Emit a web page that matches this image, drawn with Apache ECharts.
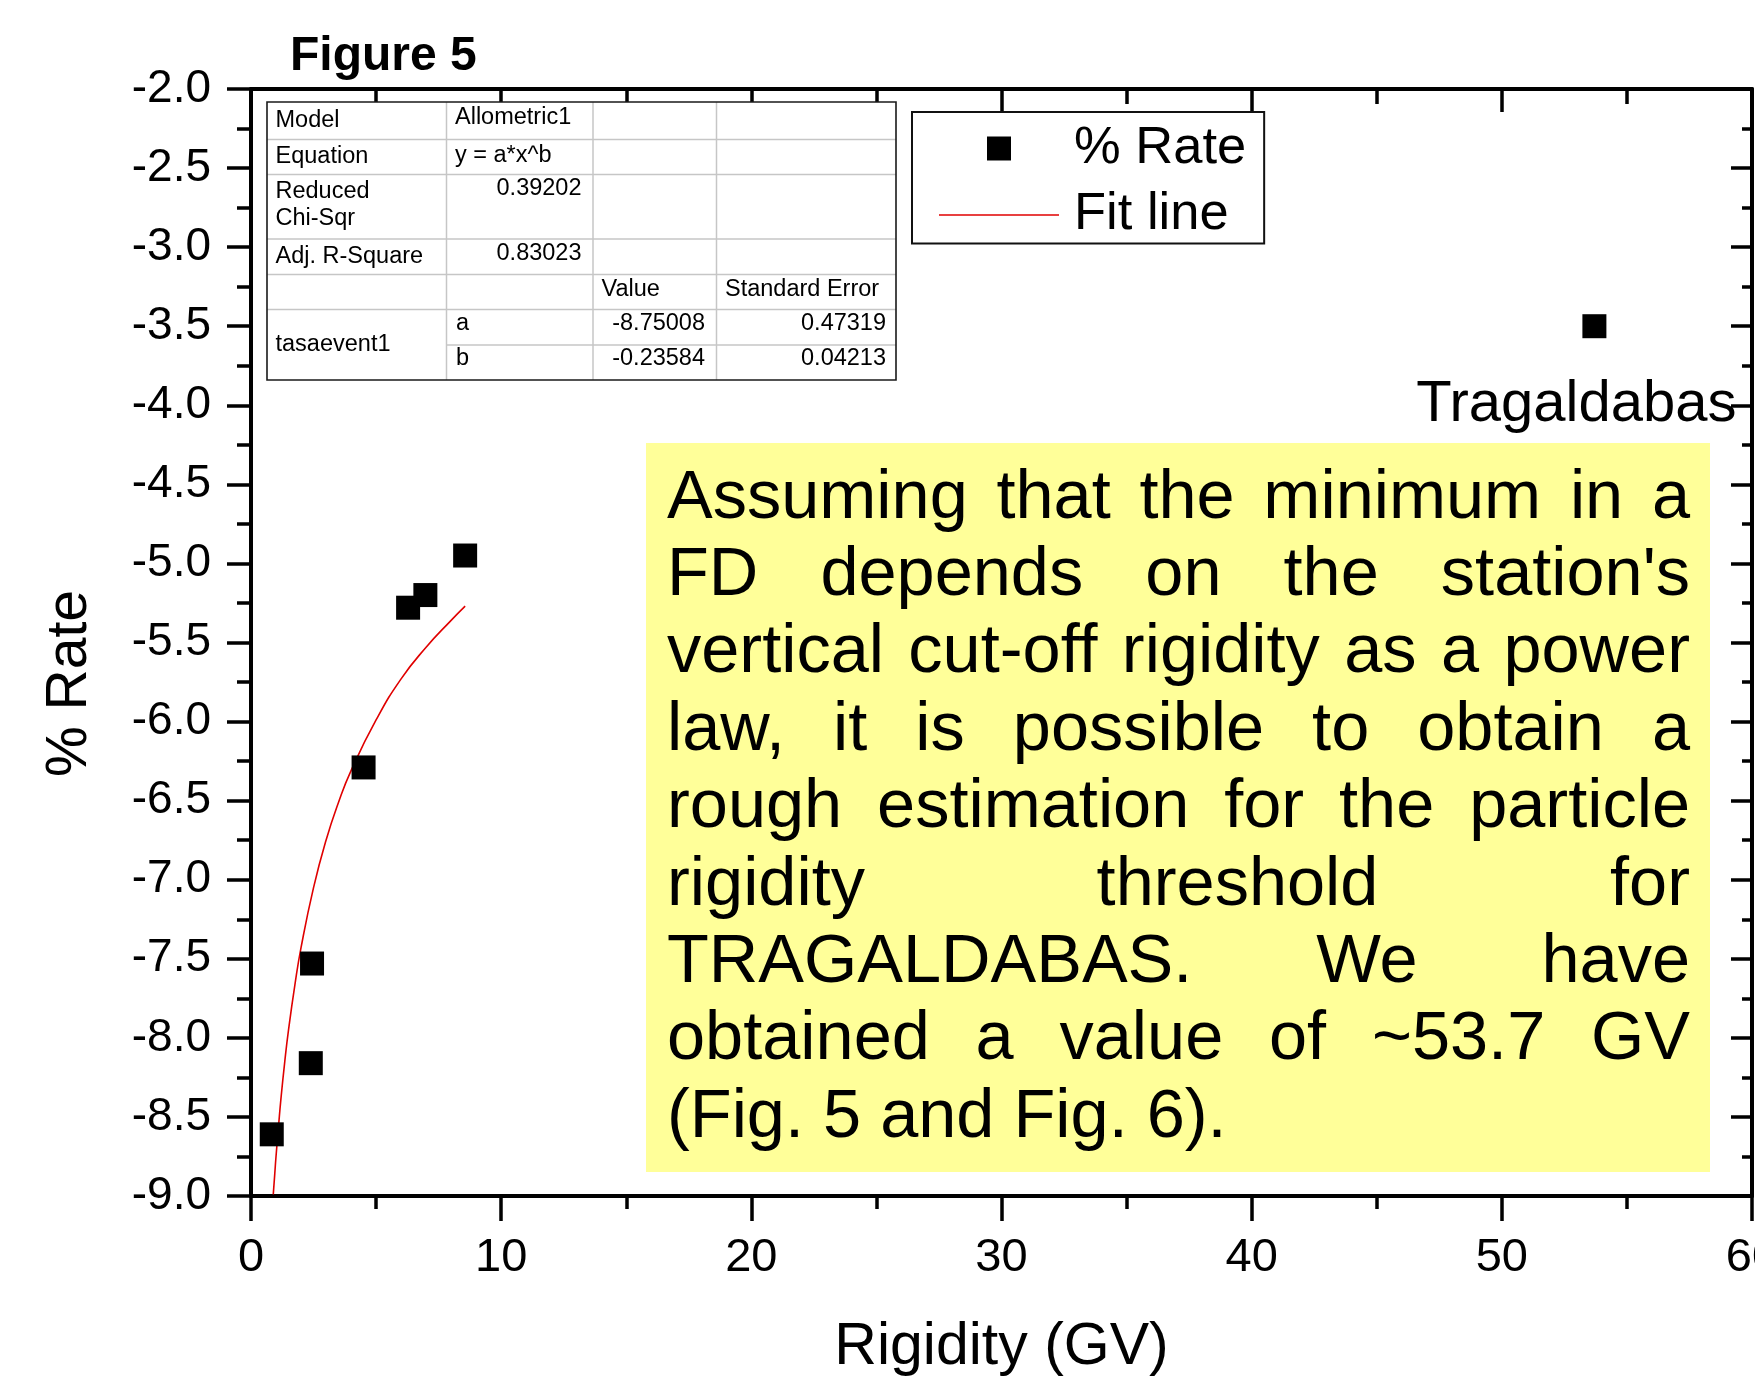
<!DOCTYPE html>
<html>
<head>
<meta charset="utf-8">
<script src="https://cdn.jsdelivr.net/npm/echarts@6/dist/echarts.min.js"></script>
<style>
html,body{margin:0;padding:0;background:#fff;}
#chart{width:1755px;height:1376px;}
</style>
</head>
<body>
<div id="chart"></div>
<script>
// ---------------- data ----------------
const titleText = 'Figure 5';
const xAxisName = 'Rigidity (GV)';
const yAxisName = '% Rate';
const seriesNames = ['% Rate', 'Fit line'];

const xTicks = [0, 10, 20, 30, 40, 50, 60];
const yTicks = [-9.0, -8.5, -8.0, -7.5, -7.0, -6.5, -6.0, -5.5, -5.0, -4.5, -4.0, -3.5, -3.0, -2.5, -2.0];

// measured points (rigidity GV, % rate)
const rigidity   = [0.83, 2.39, 2.44, 4.50, 6.28, 6.97, 8.56, 53.7];
const rateValues = [-8.61, -8.16, -7.53, -6.29, -5.28, -5.20, -4.95, -3.50];
const pointLabels = ['', '', '', '', '', '', '', 'Tragaldabas'];

// fit line
const fitRigidity = [0.89, 0.95, 1.0, 1.1, 1.2, 1.35, 1.5, 1.75, 2.0, 2.5, 3.0, 3.5, 4.0, 5.0, 6.0, 7.0, 8.0, 8.56];
const fitRate     = [-8.99, -8.86, -8.75, -8.56, -8.38, -8.15, -7.95, -7.67, -7.43, -7.05, -6.75, -6.51, -6.31, -5.99, -5.73, -5.53, -5.36, -5.27];

// fit report table
const tableModel    = ['Model', 'Allometric1'];
const tableEquation = ['Equation', 'y = a*x^b'];
const tableChiSqr   = ['Reduced', 'Chi-Sqr', '0.39202'];
const tableAdjR2    = ['Adj. R-Square', '0.83023'];
const tableHeader   = ['Value', 'Standard Error'];
const tableDataset  = 'tasaevent1';
const paramNames    = ['a', 'b'];
const paramValues   = ['-8.75008', '-0.23584'];
const paramErrors   = ['0.47319', '0.04213'];

// note paragraph (one entry per rendered line)
const paragraphLines = [
  'Assuming that the minimum in a',
  'FD depends on the station\'s',
  'vertical cut-off rigidity as a power',
  'law, it is possible to obtain a',
  'rough estimation for the particle',
  'rigidity threshold for',
  'TRAGALDABAS. We have',
  'obtained a value of ~53.7 GV',
  '(Fig. 5 and Fig. 6).'
];

// ---------------- rendering ----------------
const FONT = "'Liberation Sans', Arial, Helvetica, sans-serif";
const chart = echarts.init(document.getElementById('chart'), null, {renderer: 'canvas'});

function txt(str, x, y, align, size, z) {
  return {
    type: 'text', x: x, y: y, z: z || 110, silent: true,
    style: {
      text: str, fill: '#000', font: size + "px 'Liberation Sans', Arial, sans-serif",
      align: align || 'left', textAlign: align || 'left',
      verticalAlign: 'middle', textVerticalAlign: 'middle'
    }
  };
}
function hline(x1, x2, y, color, w, z) {
  return {type: 'line', z: z || 105, silent: true, shape: {x1: x1, y1: y, x2: x2, y2: y}, style: {stroke: color, lineWidth: w}};
}
function vline(x, y1, y2, color, w, z) {
  return {type: 'line', z: z || 105, silent: true, shape: {x1: x, y1: y1, x2: x, y2: y2}, style: {stroke: color, lineWidth: w}};
}

function buildTable() {
  const c = [267, 446.5, 593, 716.5, 896];
  const r = [102, 139.5, 174.5, 239, 274.5, 309.5, 345, 380];
  const grey = '#c6c6c6';
  const fs = 23.5;
  const els = [];
  els.push({type: 'rect', z: 100, silent: true, shape: {x: c[0], y: r[0], width: c[4] - c[0], height: r[7] - r[0]}, style: {fill: '#fff'}});
  for (let i = 1; i <= 5; i++) els.push(hline(c[0], c[4], r[i], grey, 1.5));
  els.push(hline(c[1], c[4], r[6], grey, 1.5));
  for (let j = 1; j <= 3; j++) els.push(vline(c[j], r[0], r[7], grey, 1.5));
  els.push({type: 'rect', z: 106, silent: true, shape: {x: c[0], y: r[0], width: c[4] - c[0], height: r[7] - r[0]}, style: {fill: null, stroke: '#1a1a1a', lineWidth: 1.6}});
  const lx = 275.5, mx = 455, vR = 581.5;
  els.push(txt(tableModel[0], lx, 120.5, 'left', fs));
  els.push(txt(tableModel[1], mx, 118, 'left', fs));
  els.push(txt(tableEquation[0], lx, 157, 'left', fs));
  els.push(txt(tableEquation[1], mx, 155.5, 'left', fs));
  els.push(txt(tableChiSqr[0], lx, 191.5, 'left', fs));
  els.push(txt(tableChiSqr[1], lx, 219, 'left', fs));
  els.push(txt(tableChiSqr[2], vR, 188.5, 'right', fs));
  els.push(txt(tableAdjR2[0], lx, 257, 'left', fs));
  els.push(txt(tableAdjR2[1], vR, 253.5, 'right', fs));
  els.push(txt(tableHeader[0], 601.5, 289.5, 'left', fs));
  els.push(txt(tableHeader[1], 725, 289.5, 'left', fs));
  els.push(txt(tableDataset, lx, 344.5, 'left', fs));
  const rowY = [323.5, 359];
  paramNames.forEach(function (p, i) {
    els.push(txt(p, mx + 1, rowY[i], 'left', fs));
    els.push(txt(paramValues[i], 705, rowY[i], 'right', fs));
    els.push(txt(paramErrors[i], 886, rowY[i], 'right', fs));
  });
  return els;
}

function buildParagraph() {
  const fs = 68.5;
  const L = 667, R = 1690, firstBaseline = 522.5, step = 77.4;
  const ctx = document.createElement('canvas').getContext('2d');
  ctx.font = fs + "px 'Liberation Sans', Arial, sans-serif";
  const els = [];
  els.push({type: 'rect', z: 90, silent: true, shape: {x: 646, y: 443, width: 1064, height: 729}, style: {fill: '#ffff99'}});
  paragraphLines.forEach(function (line, i) {
    const y = firstBaseline + i * step - 0.3465 * fs;
    if (i === paragraphLines.length - 1) { els.push(txt(line, L, y, 'left', fs, 95)); return; }
    const words = line.split(' ');
    const widths = words.map(function (w) { return ctx.measureText(w).width; });
    const total = widths.reduce(function (a, b) { return a + b; }, 0);
    const gap = (R - L - total) / (words.length - 1);
    let x = L;
    words.forEach(function (w, j) {
      els.push(txt(w, x, y, 'left', fs, 95));
      x += widths[j] + gap;
    });
  });
  return els;
}

const axisLine = {show: true, onZero: false, lineStyle: {color: '#000', width: 4}};
const tickStyle = {color: '#000', width: 3.5};

const scatterData = rigidity.map(function (x, i) {
  const item = {value: [x, rateValues[i]]};
  if (pointLabels[i]) {
    item.label = {
      show: true, formatter: pointLabels[i], position: 'inside', offset: [-18, 79],
      fontSize: 58, color: '#000', opacity: 1, fontFamily: FONT, textBorderWidth: 0
    };
  }
  return item;
});

const option = {
  animation: false,
  backgroundColor: '#fff',
  textStyle: {fontFamily: FONT, color: '#000'},
  title: {
    text: titleText, left: 290, top: 33, padding: 0,
    textStyle: {fontSize: 48, fontWeight: 'bold', color: '#000', fontFamily: FONT}
  },
  legend: {
    orient: 'vertical', left: 912, top: 112,
    padding: [10, 18, 2, 27],
    itemWidth: 120, itemHeight: 24, itemGap: 13.5,
    borderColor: '#111', borderWidth: 2, backgroundColor: '#fff',
    selectedMode: false,
    textStyle: {fontSize: 52.5, lineHeight: 50, color: '#000', fontFamily: FONT, padding: [0, 0, 0, 10]},
    itemStyle: {borderWidth: 0, opacity: 1},
    data: [
      {name: seriesNames[0], icon: 'path://M0,0L10,0L10,10L0,10Z'},
      {name: seriesNames[1], icon: 'path://M0,0L80,0L80,1L0,1Z'}
    ]
  },
  grid: {left: 251, right: 3, top: 89, bottom: 180, containLabel: false, outerBoundsMode: 'none'},
  xAxis: [
    {
      type: 'value', position: 'bottom',
      min: xTicks[0], max: xTicks[xTicks.length - 1], interval: xTicks[1] - xTicks[0],
      axisLine: axisLine,
      axisTick: {show: true, inside: false, length: 25, lineStyle: tickStyle},
      minorTick: {show: true, splitNumber: 2, length: 13, lineStyle: tickStyle},
      splitLine: {show: false}, minorSplitLine: {show: false},
      axisLabel: {show: true, margin: 39, fontSize: 47, color: '#000', fontFamily: FONT,
        showMinLabel: true, showMaxLabel: true, hideOverlap: false},
      name: xAxisName, nameLocation: 'middle', nameGap: 122,
      nameTextStyle: {fontSize: 59, color: '#000', fontFamily: FONT}
    },
    {
      type: 'value', position: 'top',
      min: xTicks[0], max: xTicks[xTicks.length - 1], interval: xTicks[1] - xTicks[0],
      axisLine: axisLine,
      axisTick: {show: true, inside: true, length: 23, lineStyle: tickStyle},
      minorTick: {show: true, splitNumber: 2, length: 15, lineStyle: tickStyle},
      splitLine: {show: false}, minorSplitLine: {show: false},
      axisLabel: {show: false}
    }
  ],
  yAxis: [
    {
      type: 'value', position: 'left',
      min: yTicks[0], max: yTicks[yTicks.length - 1], interval: yTicks[1] - yTicks[0],
      axisLine: axisLine,
      axisTick: {show: true, inside: false, length: 24, lineStyle: tickStyle},
      minorTick: {show: true, splitNumber: 2, length: 14, lineStyle: tickStyle},
      splitLine: {show: false}, minorSplitLine: {show: false},
      axisLabel: {show: true, margin: 40, fontSize: 46, color: '#000', fontFamily: FONT,
        showMinLabel: true, showMaxLabel: true, hideOverlap: false,
        formatter: function (v) { return v.toFixed(1); }},
      name: yAxisName, nameLocation: 'middle', nameGap: 152, nameRotate: 90,
      nameTextStyle: {fontSize: 57, color: '#000', fontFamily: FONT, padding: [0, 82, 0, 0]}
    },
    {
      type: 'value', position: 'right',
      min: yTicks[0], max: yTicks[yTicks.length - 1], interval: yTicks[1] - yTicks[0],
      axisLine: axisLine,
      axisTick: {show: true, inside: true, length: 21, lineStyle: tickStyle},
      minorTick: {show: true, splitNumber: 2, length: 10, lineStyle: tickStyle},
      splitLine: {show: false}, minorSplitLine: {show: false},
      axisLabel: {show: false}
    }
  ],
  series: [
    {
      name: seriesNames[1], type: 'line', xAxisIndex: 0, yAxisIndex: 0,
      data: fitRigidity.map(function (x, i) { return [x, fitRate[i]]; }),
      smooth: true, showSymbol: false, symbol: 'none', silent: true,
      lineStyle: {color: '#e00000', width: 1.6, opacity: 1}, itemStyle: {color: '#e00000', opacity: 1}, z: 2
    },
    {
      name: seriesNames[0], type: 'scatter', xAxisIndex: 0, yAxisIndex: 0,
      symbol: 'rect', symbolSize: 24, itemStyle: {color: '#000', opacity: 1},
      data: scatterData, z: 3
    }
  ],
  graphic: {elements: buildTable().concat(buildParagraph())}
};

chart.setOption(option);
</script>
</body>
</html>
